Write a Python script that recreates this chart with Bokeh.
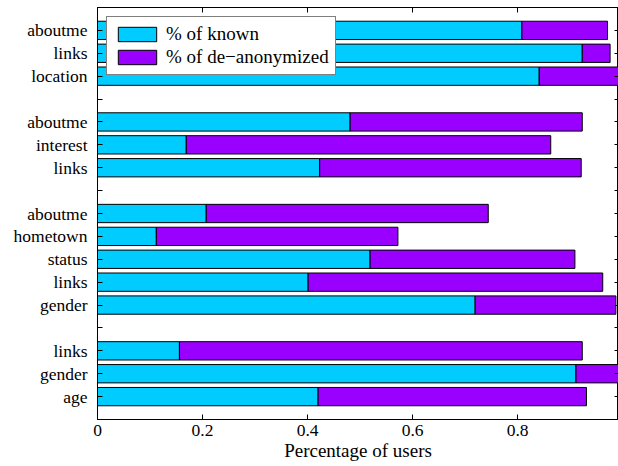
from bokeh.plotting import figure
from bokeh.models import FixedTicker, LinearAxis, Range1d, ColumnDataSource
from bokeh.embed import file_html
from bokeh.resources import INLINE

# Groups, listed top to bottom
group_labels = [
    ["aboutme", "links", "location"],
    ["aboutme", "interest", "links"],
    ["aboutme", "hometown", "status", "links", "gender"],
    ["links", "gender", "age"],
]
known = [
    [0.808, 0.923, 0.841],
    [0.481, 0.169, 0.423],
    [0.207, 0.112, 0.519, 0.401, 0.719],
    [0.156, 0.911, 0.420],
]
deanonymized = [
    [0.163, 0.053, 0.159],
    [0.442, 0.694, 0.498],
    [0.537, 0.460, 0.390, 0.561, 0.268],
    [0.767, 0.089, 0.511],
]
series_names = ["% of known", "% of de\u2212anonymized"]
x_ticks = [0, 0.2, 0.4, 0.6, 0.8]
x_title = "Percentage of users"

CYAN = "#00CCFF"
PURPLE = "#9900FF"
FONT = "Liberation Serif"

# slot positions (one slot per bar, one empty slot between groups)
n_slots = sum(len(g) for g in group_labels) + len(group_labels) - 1
ys, labs, kn, de = [], [], [], []
overrides = {}
pos = n_slots
for gi, g in enumerate(group_labels):
    for li, lab in enumerate(g):
        ys.append(pos)
        labs.append(lab)
        kn.append(known[gi][li])
        de.append(deanonymized[gi][li])
        overrides[pos] = lab
        pos -= 1
    if gi < len(group_labels) - 1:
        overrides[pos] = ""
        pos -= 1

src = ColumnDataSource(dict(y=ys, label=labs, known=kn, deanon=de))

p = figure(
    output_backend="svg", toolbar_location=None,
    frame_width=521, frame_height=412,
    x_range=Range1d(0, 0.992), y_range=Range1d(0, n_slots + 1),
    min_border_left=97, min_border_right=0, min_border_top=7, min_border_bottom=0,
)

p.hbar_stack(["known", "deanon"], y="y", height=0.8, color=[CYAN, PURPLE],
             line_color="black", line_width=1, source=src,
             legend_label=series_names)

slot_ticks = list(range(1, n_slots + 1))

# bottom axis
xa = p.xaxis[0]
xa.ticker = FixedTicker(ticks=x_ticks)
xa.minor_tick_line_color = None
xa.major_tick_in = 5
xa.major_tick_out = 0
xa.major_label_standoff = 5
xa.axis_label = x_title
xa.axis_label_standoff = 1
xa.axis_label_text_font_style = "normal"
xa.major_label_text_font = FONT
xa.major_label_text_font_size = "17.5px"
xa.axis_label_text_font = FONT
xa.axis_label_text_font_size = "19px"
xa.major_label_text_color = "black"
xa.axis_label_text_color = "black"

# left axis
ya = p.yaxis[0]
ya.ticker = FixedTicker(ticks=slot_ticks)
ya.major_label_overrides = overrides
ya.minor_tick_line_color = None
ya.major_tick_in = 5
ya.major_tick_out = 0
ya.major_label_standoff = 10
ya.major_label_text_font = FONT
ya.major_label_text_font_size = "17.5px"
ya.major_label_text_color = "black"

# mirror axes (ticks only, no labels)
top = LinearAxis(ticker=FixedTicker(ticks=x_ticks), major_tick_in=5, major_tick_out=0,
                 minor_tick_line_color=None, major_label_standoff=0,
                 major_label_overrides={t: "" for t in x_ticks})
right = LinearAxis(ticker=FixedTicker(ticks=slot_ticks), major_tick_in=4, major_tick_out=0,
                   minor_tick_line_color=None, major_label_standoff=0,
                   major_label_overrides={t: "" for t in slot_ticks})
p.add_layout(top, "above")
p.add_layout(right, "right")

for ax in [xa, ya, top, right]:
    ax.axis_line_color = "black"
    ax.major_tick_line_color = "black"

p.xgrid.grid_line_color = None
p.ygrid.grid_line_color = None
p.outline_line_color = "black"

lg = p.legend[0]
lg.location = "top_left"
lg.margin = 9
lg.padding = 6
lg.spacing = 1
lg.glyph_width = 48
lg.glyph_height = 18
lg.label_height = 18
lg.label_standoff = 5
lg.label_text_font = FONT
lg.label_text_font_size = "19px"
lg.label_text_color = "black"
lg.border_line_color = "black"
lg.border_line_width = 1
lg.background_fill_alpha = 1.0

open("out.html", "w").write(file_html(p, INLINE))
